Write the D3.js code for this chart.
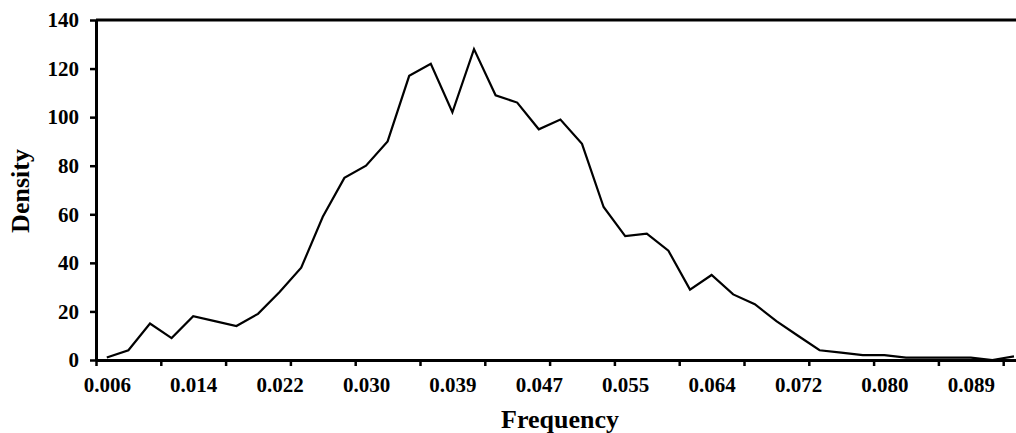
<!DOCTYPE html>
<html>
<head>
<meta charset="utf-8">
<script src="https://cdn.jsdelivr.net/npm/d3@7"></script>
<style>
body { margin: 0; background: #fff; }
text { font-family: "Liberation Serif", "Times New Roman", serif; font-weight: bold; fill: #000; }
</style>
</head>
<body>
<div id="a"></div>
<script>
// bin labels along the category axis
var cats = ["0.006","0.008","0.010","0.012","0.014","0.016","0.018","0.020","0.022","0.024",
            "0.026","0.028","0.030","0.033","0.035","0.037","0.039","0.041","0.043","0.045",
            "0.047","0.049","0.051","0.053","0.055","0.057","0.060","0.062","0.064","0.066",
            "0.068","0.070","0.072","0.074","0.076","0.078","0.080","0.082","0.084","0.086",
            "0.089","0.091","0.093","0.095"];
var density = [1,4,15,9,18,16,14,19,28,38,
               59,75,80,90,117,122,102,128,109,106,
               95,99,89,63,51,52,45,29,35,27,
               23,16,10,4,3,2,2,1,1,1,
               1,0,1.5];
var yTicks = [0,20,40,60,80,100,120,140];

var W = 1016, H = 433;
var m = {left: 96, top: 20};
var step = 21.6;
var plotW = cats.length * step, plotH = 340;

var svg = d3.select("#a").append("svg")
	.attr("width", W)
	.attr("height", H);

var g = svg.append("g").attr("transform", "translate(" + m.left + "," + m.top + ")");

var xi = d3.scaleLinear().domain([0, cats.length]).range([0, plotW]);
var y = d3.scaleLinear().domain([0, 140]).range([plotH, 0]);

// top border of plot area
g.append("line")
	.attr("x1", 0).attr("x2", plotW)
	.attr("y1", 0).attr("y2", 0)
	.attr("stroke", "#000").attr("stroke-width", 3);

// y axis
var ya = g.append("g")
	.call(d3.axisLeft(y).tickValues(yTicks).tickSize(6).tickSizeOuter(0).tickPadding(11));
ya.select(".domain").attr("stroke-width", 3);
ya.selectAll(".tick line").attr("stroke-width", 2.5);
ya.selectAll(".tick text").style("font-size", "21px");

// x tick marks every 3 bins
var markIdx = d3.range(0, cats.length + 1, 3);
var xm = g.append("g").attr("transform", "translate(0," + plotH + ")")
	.call(d3.axisBottom(xi).tickValues(markIdx).tickSize(6).tickSizeOuter(0).tickFormat(""));
xm.select(".domain").attr("stroke-width", 3);
xm.selectAll(".tick line").attr("stroke-width", 2.5);

// x labels every 4 bins, centred on the bin
var labIdx = d3.range(0, cats.length, 4).map(function(i){ return i + 0.5; });
var xl = g.append("g").attr("transform", "translate(0," + plotH + ")")
	.call(d3.axisBottom(xi).tickValues(labIdx).tickSize(0).tickPadding(17)
		.tickFormat(function(d){ return cats[Math.floor(d)]; }));
xl.select(".domain").remove();
xl.selectAll(".tick text").style("font-size", "21px");

// density line
var line = d3.line()
	.x(function(d, i){ return xi(i + 0.5); })
	.y(function(d){ return y(d); });

g.append("path")
	.datum(density)
	.attr("d", line)
	.attr("fill", "none")
	.attr("stroke", "#000")
	.attr("stroke-width", 2.2);

// axis titles
svg.append("text")
	.attr("x", 560).attr("y", 428)
	.attr("text-anchor", "middle")
	.style("font-size", "26px")
	.text("Frequency");

svg.append("text")
	.attr("transform", "translate(29,191) rotate(-90)")
	.attr("text-anchor", "middle")
	.style("font-size", "26px")
	.text("Density");
</script>
</body>
</html>
